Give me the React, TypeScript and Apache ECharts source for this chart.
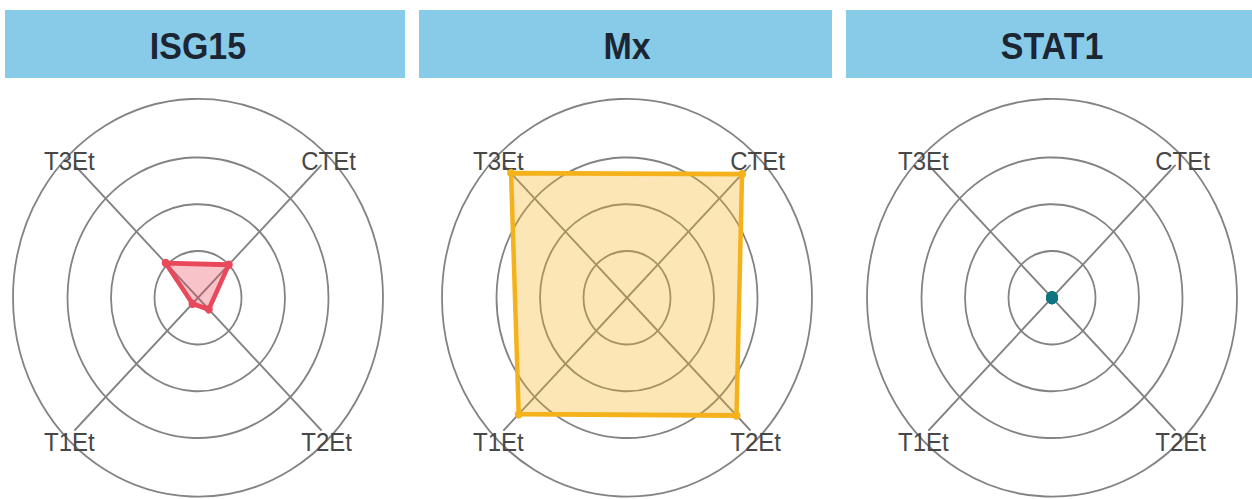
import { useEffect, useRef } from "react";
import * as echarts from "echarts";

// Genes shown as panels, and the four time points on each radar
const genes = ["ISG15", "Mx", "STAT1"];
const timepoints = ["CTEt", "T3Et", "T1Et", "T2Et"];

// Expression per time point (same order as timepoints)
const isg15Values = [1.0, 1.05, 0.18, 0.35];
const mxValues = [3.74, 3.77, 3.52, 3.56];
const stat1Values = [0, 0, 0, 0];

const geneValues = [isg15Values, mxValues, stat1Values];
const geneColors = ["#E8495B", "#F5B21B", "#0E7480"];

const axisMin = 0;
const axisMax = 4;

// Layout (in chart pixels, before the vertical stretch)
const SCALE_Y = 1.075;
const CHART_W = 1252;
const CHART_H = Math.round(499 / SCALE_Y);
const CY = 277;
const UNIT = 43.5;
const OUTER_R = 185;
const panels = [
  { cx: 198, left: 5, right: 405 },
  { cx: 627, left: 419, right: 832 },
  { cx: 1052, left: 846, right: 1252 },
];
const GRID = "#838383";
const GRID_W = 1.8;
const TOP_NAMES = new Set(["CTEt", "T3Et"]);
const NAME_FONT = "'Liberation Sans', Arial, sans-serif";

function buildOption(): echarts.EChartsOption {
  const radar: any[] = [];
  const series: any[] = [];
  const graphic: any[] = [];

  panels.forEach((p, i) => {
    radar.push({
      center: [p.cx, CY],
      radius: UNIT * axisMax,
      shape: "circle",
      startAngle: 45,
      splitNumber: axisMax - axisMin,
      indicator: timepoints.map((name) => ({ name, min: axisMin, max: axisMax })),
      axisLine: { show: true, lineStyle: { color: GRID, width: GRID_W } },
      splitLine: {
        show: true,
        lineStyle: { color: [GRID, GRID, GRID, GRID, "rgba(0,0,0,0)"], width: GRID_W },
      },
      splitArea: { show: false },
      axisTick: { show: false },
      axisLabel: { show: false },
      axisNameGap: -28,
      axisName: {
        show: true,
        color: "#474747",
        fontSize: 24,
        fontFamily: NAME_FONT,
        formatter: (name: string) => (TOP_NAMES.has(name) ? `{up|${name}}` : `{down|${name}}`),
        rich: {
          up: { fontSize: 24, color: "#474747", fontFamily: NAME_FONT, padding: [0, 0, 48, 0] },
          down: { fontSize: 24, color: "#474747", fontFamily: NAME_FONT, padding: [62, 0, 0, 0] },
        },
      },
    });
    // outer boundary ring
    radar.push({
      center: [p.cx, CY],
      radius: OUTER_R,
      shape: "circle",
      startAngle: 45,
      splitNumber: 1,
      indicator: timepoints.map((name) => ({ name, min: 0, max: 1 })),
      axisLine: { show: false },
      axisTick: { show: false },
      axisLabel: { show: false },
      axisName: { show: false },
      splitLine: { show: true, lineStyle: { color: GRID, width: GRID_W } },
      splitArea: { show: false },
    });

    const color = geneColors[i];
    const isDot = geneValues[i].every((v) => v === 0);
    series.push({
      type: "radar",
      radarIndex: i * 2,
      z: 3,
      symbol: "circle",
      symbolSize: isDot ? 12 : 8,
      lineStyle: { color, width: 4.5 },
      itemStyle: { color },
      areaStyle: isDot ? undefined : { color, opacity: 0.32 },
      data: [{ name: genes[i], value: geneValues[i] }],
    });

    graphic.push({
      type: "rect",
      z: 1,
      shape: { x: p.left, y: 9.3, width: p.right - p.left, height: 63.3 },
      style: { fill: "#87CBE8" },
    });
    graphic.push({
      type: "text",
      z: 2,
      x: p.cx,
      y: 43,
      style: {
        text: genes[i],
        align: "center",
        verticalAlign: "middle",
        font: "bold 34px 'Liberation Sans', Arial, sans-serif",
        fill: "#1b2632",
      },
    });
  });

  return {
    animation: false,
    backgroundColor: "#ffffff",
    radar,
    series,
    graphic,
  };
}

export default function App() {
  const ref = useRef<HTMLDivElement>(null);

  useEffect(() => {
    if (!ref.current) return;
    const chart = echarts.init(ref.current, undefined, { renderer: "svg" });
    chart.setOption(buildOption());
    return () => chart.dispose();
  }, []);

  return (
    <div
      style={{
        position: "fixed",
        left: 0,
        top: 0,
        width: CHART_W,
        height: 499,
        overflow: "hidden",
        background: "#ffffff",
      }}
    >
      <div
        ref={ref}
        style={{
          width: CHART_W,
          height: CHART_H,
          transform: `scaleY(${SCALE_Y})`,
          transformOrigin: "0 0",
        }}
      />
    </div>
  );
}
